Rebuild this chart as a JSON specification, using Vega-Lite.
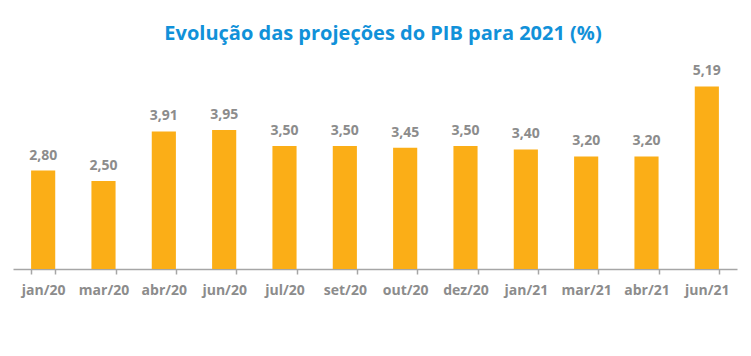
{
  "$schema": "https://vega.github.io/schema/vega-lite/v6.json",
  "width": 724,
  "height": 211,
  "autosize": "none",
  "padding": {"left": 13, "top": 58, "right": 14, "bottom": 87},
  "background": "white",
  "title": {
    "text": "Evolução das projeções do PIB para 2021 (%)",
    "anchor": "middle",
    "dx": 8,
    "offset": 14,
    "font": "Open Sans",
    "fontSize": 20,
    "fontWeight": "bold",
    "color": "#1191D9"
  },
  "config": {
    "view": {"stroke": null},
    "locale": {"number": {"decimal": ",", "thousands": ".", "grouping": [3], "currency": ["R$", ""]}}
  },
  "data": {
    "values": [
      {"mes": "jan/20", "valor": 2.80},
      {"mes": "mar/20", "valor": 2.50},
      {"mes": "abr/20", "valor": 3.91},
      {"mes": "jun/20", "valor": 3.95},
      {"mes": "jul/20", "valor": 3.50},
      {"mes": "set/20", "valor": 3.50},
      {"mes": "out/20", "valor": 3.45},
      {"mes": "dez/20", "valor": 3.50},
      {"mes": "jan/21", "valor": 3.40},
      {"mes": "mar/21", "valor": 3.20},
      {"mes": "abr/21", "valor": 3.20},
      {"mes": "jun/21", "valor": 5.19}
    ]
  },
  "encoding": {
    "x": {
      "field": "mes",
      "type": "nominal",
      "sort": null,
      "scale": {"paddingInner": 0.6, "paddingOuter": 0.3},
      "axis": {
        "title": null,
        "labelAngle": 0,
        "labelFont": "Open Sans",
        "labelFontSize": 14,
        "labelFontWeight": "bold",
        "labelColor": "#8C8C8C",
        "labelPadding": 9,
        "domainColor": "#A6A6A6",
        "domainWidth": 1.5,
        "tickColor": "#A6A6A6",
        "tickWidth": 1.5,
        "tickSize": 5,
        "tickBand": "extent"
      }
    },
    "y": {
      "field": "valor",
      "type": "quantitative",
      "scale": {"domain": [0, 6]},
      "axis": null
    }
  },
  "layer": [
    {"mark": {"type": "bar", "color": "#FBAE17"}},
    {
      "mark": {"type": "text", "dy": -15, "font": "Open Sans", "fontSize": 14, "fontWeight": "bold", "color": "#8C8C8C"},
      "encoding": {"text": {"field": "valor", "type": "quantitative", "format": ".2f"}}
    }
  ]
}
